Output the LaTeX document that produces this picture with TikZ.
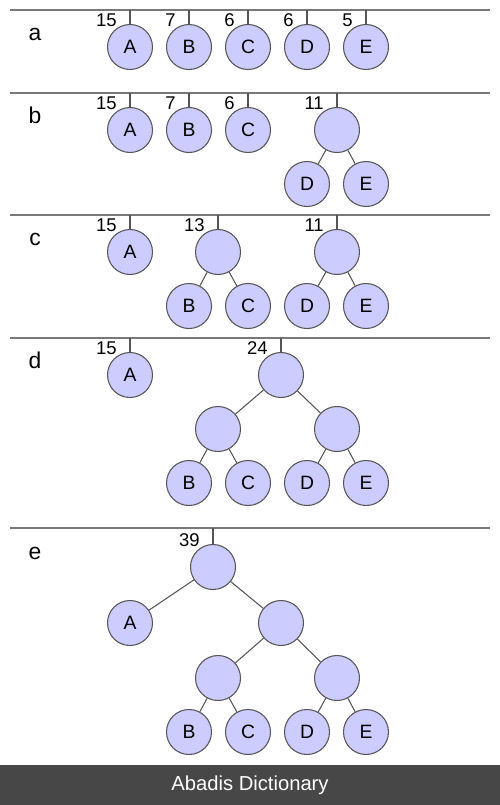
\documentclass[tikz,border=0pt]{standalone}
\usepackage{fontspec}
\setmainfont{Liberation Sans}
\usetikzlibrary{positioning}
\definecolor{nodefill}{RGB}{204,204,255}
\definecolor{nodeline}{RGB}{85,85,85}
\definecolor{rulegray}{RGB}{120,120,120}
\definecolor{footgray}{RGB}{71,71,71}

\begin{document}
\begin{tikzpicture}[
  x=0.02cm, y=-0.02cm,
  hnode/.style={circle, draw=nodeline, fill=nodefill, line width=0.6pt,
                minimum size=0.9cm, inner sep=0pt, font=\fontsize{11}{13}\selectfont},
  wlabel/.style={anchor=base east, inner sep=0pt, font=\fontsize{10.5}{12}\selectfont},
  slabel/.style={anchor=base, inner sep=0pt, font=\fontsize{13}{15}\selectfont},
  rule/.style={draw=rulegray, line width=0.7pt},
  edge/.style={draw=nodeline, line width=0.6pt}
]
\useasboundingbox (0,0) rectangle (500,805);

% --- a: five single trees
\draw[rule] (10,10) coordinate (atop) -- (490,10);
\node[slabel] (alab) at (35,40) {a};
\node[hnode] (aA) at (130,47) {A};
\node[hnode] (aB) at (189,47) {B};
\node[hnode] (aC) at (248,47) {C};
\node[hnode] (aD) at (307,47) {D};
\node[hnode] (aE) at (366,47) {E};
\foreach \n/\w in {aA/15, aB/7, aC/6, aD/6, aE/5} {
  \draw[edge] (\n.north) -- (\n.north |- atop);
  \node[wlabel] (\n w) at ([xshift=-0.26cm,yshift=-0.06cm]\n.north) {\w};
}

% --- b: D and E merged
\draw[rule] (10,93) coordinate (btop) -- (490,93);
\node[slabel] (blab) at (35,123) {b};
\node[hnode] (bA) at (130,130) {A};
\node[hnode] (bB) at (189,130) {B};
\node[hnode] (bC) at (248,130) {C};
\node[hnode] (bDE) at (337,130) {};
\node[hnode] (bD) at (307,184) {D};
\node[hnode] (bE) at (366,184) {E};
\draw[edge] (bDE) -- (bD);
\draw[edge] (bDE) -- (bE);
\foreach \n/\w in {bA/15, bB/7, bC/6, bDE/11} {
  \draw[edge] (\n.north) -- (\n.north |- btop);
  \node[wlabel] (\n w) at ([xshift=-0.26cm,yshift=-0.06cm]\n.north) {\w};
}

% --- c: B and C merged
\draw[rule] (10,215) coordinate (ctop) -- (490,215);
\node[slabel] (clab) at (35,245) {c};
\node[hnode] (cA) at (130,252) {A};
\node[hnode] (cBC) at (218,252) {};
\node[hnode] (cB) at (189,306) {B};
\node[hnode] (cC) at (248,306) {C};
\node[hnode] (cDE) at (337,252) {};
\node[hnode] (cD) at (307,306) {D};
\node[hnode] (cE) at (366,306) {E};
\draw[edge] (cBC) -- (cB);
\draw[edge] (cBC) -- (cC);
\draw[edge] (cDE) -- (cD);
\draw[edge] (cDE) -- (cE);
\foreach \n/\w in {cA/15, cBC/13, cDE/11} {
  \draw[edge] (\n.north) -- (\n.north |- ctop);
  \node[wlabel] (\n w) at ([xshift=-0.26cm,yshift=-0.06cm]\n.north) {\w};
}

% --- d: BC and DE merged
\draw[rule] (10,338) coordinate (dtop) -- (490,338);
\node[slabel] (dlab) at (35,368) {d};
\node[hnode] (dA) at (130,375) {A};
\node[hnode] (dR) at (281,375) {};
\node[hnode] (dBC) at (218,429) {};
\node[hnode] (dDE) at (337,429) {};
\node[hnode] (dB) at (189,483) {B};
\node[hnode] (dC) at (248,483) {C};
\node[hnode] (dD) at (307,483) {D};
\node[hnode] (dE) at (366,483) {E};
\draw[edge] (dR) -- (dBC);
\draw[edge] (dR) -- (dDE);
\draw[edge] (dBC) -- (dB);
\draw[edge] (dBC) -- (dC);
\draw[edge] (dDE) -- (dD);
\draw[edge] (dDE) -- (dE);
\foreach \n/\w in {dA/15, dR/24} {
  \draw[edge] (\n.north) -- (\n.north |- dtop);
  \node[wlabel] (\n w) at ([xshift=-0.26cm,yshift=-0.06cm]\n.north) {\w};
}

% --- e: final tree
\draw[rule] (10,528) coordinate (etop) -- (490,528);
\node[slabel] (elab) at (35,559) {e};
\node[hnode] (eR) at (213,567) {};
\node[hnode] (eA) at (130,623) {A};
\node[hnode] (eBE) at (281,623) {};
\node[hnode] (eBC) at (218,678) {};
\node[hnode] (eDE) at (337,678) {};
\node[hnode] (eB) at (189,732) {B};
\node[hnode] (eC) at (248,732) {C};
\node[hnode] (eD) at (307,732) {D};
\node[hnode] (eE) at (366,732) {E};
\draw[edge] (eR) -- (eA);
\draw[edge] (eR) -- (eBE);
\draw[edge] (eBE) -- (eBC);
\draw[edge] (eBE) -- (eDE);
\draw[edge] (eBC) -- (eB);
\draw[edge] (eBC) -- (eC);
\draw[edge] (eDE) -- (eD);
\draw[edge] (eDE) -- (eE);
\draw[edge] (eR.north) -- (eR.north |- etop);
\node[wlabel] (eRw) at ([xshift=-0.26cm,yshift=-0.06cm]eR.north) {39};

% footer
\fill[footgray] (0,765) rectangle (500,805);
\node[text=white, font=\fontsize{11.5}{13}\selectfont] (foot) at (250,785) {Abadis Dictionary};
\end{tikzpicture}
\end{document}
